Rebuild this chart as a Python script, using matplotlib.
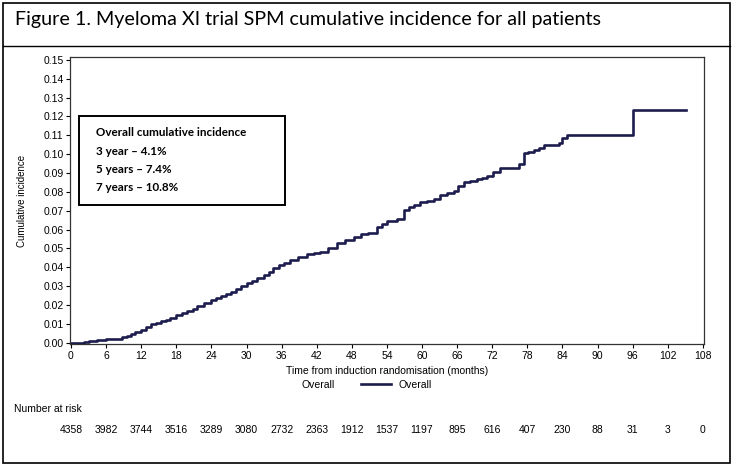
import matplotlib
matplotlib.use("Agg")
import matplotlib.pyplot as plt
from matplotlib import font_manager
from matplotlib.lines import Line2D
from matplotlib.patches import Rectangle
from matplotlib.transforms import blended_transform_factory

# cumulative incidence (months, proportion), step function
months = [0, 2.2, 3.1, 4.5, 6.0, 7.9, 8.8, 9.5, 10.2, 11.0, 12.0, 12.8, 13.6,
          14.5, 15.3, 16.2, 17.0, 18.0, 19.0, 19.9, 20.8, 21.6, 22.8, 24.0,
          24.8, 25.6, 26.5, 27.3, 28.2, 29.0, 30.0, 30.9, 31.8, 33.0, 33.8,
          34.6, 35.5, 36.4, 37.4, 38.8, 40.3, 41.5, 42.6, 44.0, 45.4, 46.8,
          48.3, 49.5, 50.8, 52.3, 53.2, 54.0, 55.7, 56.9, 57.8, 58.6, 59.7,
          60.9, 62.0, 63.1, 64.2, 65.4, 66.2, 67.1, 68.2, 69.4, 70.2, 71.1,
          72.2, 73.4, 75.7, 76.6, 77.4, 78.2, 79.1, 80.0, 80.8, 83.4, 84.0,
          84.7, 96.1, 105.1]
incidence = [0, 0.0004, 0.0007, 0.0012, 0.0018, 0.0021, 0.0030, 0.0037,
             0.0044, 0.0054, 0.0065, 0.0082, 0.0097, 0.0104, 0.0112, 0.0122,
             0.0132, 0.0145, 0.0156, 0.0168, 0.0180, 0.0192, 0.0208, 0.0224,
             0.0236, 0.0249, 0.0258, 0.0268, 0.0284, 0.0300, 0.0314, 0.0328,
             0.0342, 0.0358, 0.0375, 0.0394, 0.0412, 0.0425, 0.0441, 0.0456,
             0.0470, 0.0476, 0.0482, 0.0502, 0.0526, 0.0545, 0.0562, 0.0574,
             0.0580, 0.0615, 0.0630, 0.0647, 0.0654, 0.0704, 0.0718, 0.0730,
             0.0748, 0.0753, 0.0760, 0.0783, 0.0795, 0.0805, 0.0830, 0.0851,
             0.0858, 0.0867, 0.0875, 0.0885, 0.0905, 0.0925, 0.0925, 0.0948,
             0.1005, 0.1012, 0.1023, 0.1035, 0.1050, 0.1058, 0.1085, 0.1103,
             0.1234, 0.1234]

risk_months = list(range(0, 109, 6))
at_risk = [4358, 3982, 3744, 3516, 3289, 3080, 2732, 2363, 1912, 1537, 1197,
           895, 616, 407, 230, 88, 31, 3, 0]

summary_lines = ["Overall cumulative incidence", "3 year \u2013 4.1%",
                 "5 years \u2013 7.4%", "7 years \u2013 10.8%"]

installed = {f.name for f in font_manager.fontManager.ttflist}
narrow = "Liberation Sans Narrow" if "Liberation Sans Narrow" in installed else "Liberation Sans"
plt.rcParams["font.family"] = narrow

W, H = 732, 465
fig = plt.figure(figsize=(W / 100, H / 100), dpi=100)


def fx(px):
    return px / W


def fy(py):
    return 1 - py / H


# outer frame and title band
fig.patches.append(Rectangle((fx(3), fy(463)), fx(727), 460 / H, transform=fig.transFigure,
                             fill=False, edgecolor="black", linewidth=1.2))
fig.lines.append(Line2D([fx(3), fx(730)], [fy(46.5), fy(46.5)], transform=fig.transFigure,
                        color="black", linewidth=1.0))
fig.text(fx(15), fy(19), "Figure 1. Myeloma XI trial SPM cumulative incidence for all patients",
         family="Lato", fontsize=14.2, va="center", ha="left")

ax = fig.add_axes([fx(70), fy(344.3), fx(704) - fx(70), (344.3 - 57.3) / H])
line, = ax.plot(months, incidence, drawstyle="steps-post", color="#1c1c4e",
                linewidth=1.9, label="Overall")
ax.set_xlim(-0.17, 108.2)
ax.set_ylim(-0.0009, 0.1514)
ax.set_xticks(risk_months)
ax.set_yticks([i / 100 for i in range(16)])
ax.yaxis.set_major_formatter(matplotlib.ticker.FormatStrFormatter("%.2f"))
ax.tick_params(direction="out", length=3, width=0.8, labelsize=7.5, pad=1.5, colors="black")
for s in ax.spines.values():
    s.set_linewidth(0.9)
    s.set_color("#333333")
ax.set_xlabel("Time from induction randomisation (months)", fontsize=7.5, labelpad=4)
fig.text(fx(22), (fy(344.3) + fy(57.3)) / 2, "Cumulative incidence", rotation=90,
         fontsize=7, va="center", ha="center")

# summary box
fig.patches.append(Rectangle((fx(79), fy(205)), fx(206), 89.3 / H, transform=fig.transFigure,
                             fill=False, edgecolor="black", linewidth=1.4))
for txt, py in zip(summary_lines, [133, 151.5, 169.5, 187.5]):
    fig.text(fx(96), fy(py), txt, family="Lato", fontweight="bold", fontsize=8.4,
             va="center", ha="left")

# legend row
fig.text(fx(318), fy(385), "Overall", fontsize=7.5, ha="center", va="center")
fig.legend(handles=[line], loc="center left", bbox_to_anchor=(fx(352), fy(385)),
           frameon=False, fontsize=7.5, handlelength=2.8, handletextpad=0.8)

# number at risk
fig.text(fx(14), fy(409), "Number at risk", fontsize=7.5, ha="left", va="center")
trans = blended_transform_factory(ax.transData, fig.transFigure)
for m, n in zip(risk_months, at_risk):
    ax.text(m, fy(430), str(n), transform=trans, fontsize=7.5, ha="center", va="center",
            clip_on=False)

fig.savefig("out.png", dpi=100)
